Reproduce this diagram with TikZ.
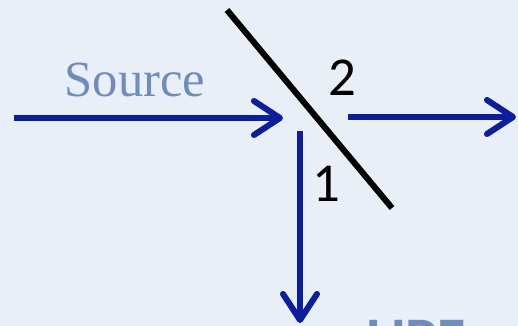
\documentclass[tikz,border=0pt]{standalone}
\usepackage{fontspec}
\usepackage{xcolor}
\usepackage{tikz}
\usetikzlibrary{arrows.meta,positioning}
\newfontfamily\labelfont{Carlito}
\newfontfamily\sourcefont{Liberation Serif}
\definecolor{bsBack}{HTML}{E9EFF7}
\definecolor{bsBeam}{HTML}{0A1E9E}
\definecolor{bsText}{HTML}{6E8CBE}
\tikzset{
  beam/.style={line width=4.3pt, draw=bsBeam, -{Straight Barb[length=6.5mm, width=8.5mm, round]}},
  splitter/.style={line width=4.3pt, draw=black},
  portlabel/.style={font=\labelfont\fontsize{39}{42}\selectfont, text=black, inner sep=0pt},
  srclabel/.style={font=\sourcefont\fontsize{36}{40}\selectfont, text=bsText, inner sep=0pt}
}
\begin{document}
\begin{tikzpicture}[x=0.025cm, y=-0.025cm]
\fill[bsBack] (0,0) rectangle (518,326);
\useasboundingbox (0,0) rectangle (518,326);
\clip (0,0) rectangle (518,326);
% beam splitter
\coordinate (bsTop) at (227,10);
\coordinate (bsBot) at (392,208);
\draw[splitter] (bsTop) -- (bsBot);
% beams
\coordinate (srcStart) at (14,118);
\coordinate (srcEnd) at (283,118);
\coordinate (outTwoStart) at (348,117);
\coordinate (outTwoEnd) at (516,117);
\coordinate (outOneStart) at (300,131);
\coordinate (outOneEnd) at (300,323);
\draw[beam] (srcStart) -- (srcEnd);
\draw[beam] (outTwoStart) -- (outTwoEnd);
\draw[beam] (outOneStart) -- (outOneEnd);
% labels
\node[srclabel] (source) at (135,80) {Source};
\node[portlabel] (portTwo) at (342,78) {2};
\node[portlabel] (portOne) at (326,184) {1};
\node[font=\labelfont\bfseries\fontsize{43}{46}\selectfont, text=bsText, inner sep=0pt, anchor=north west] (upf) at (366,320) {UPF};
\end{tikzpicture}
\end{document}
